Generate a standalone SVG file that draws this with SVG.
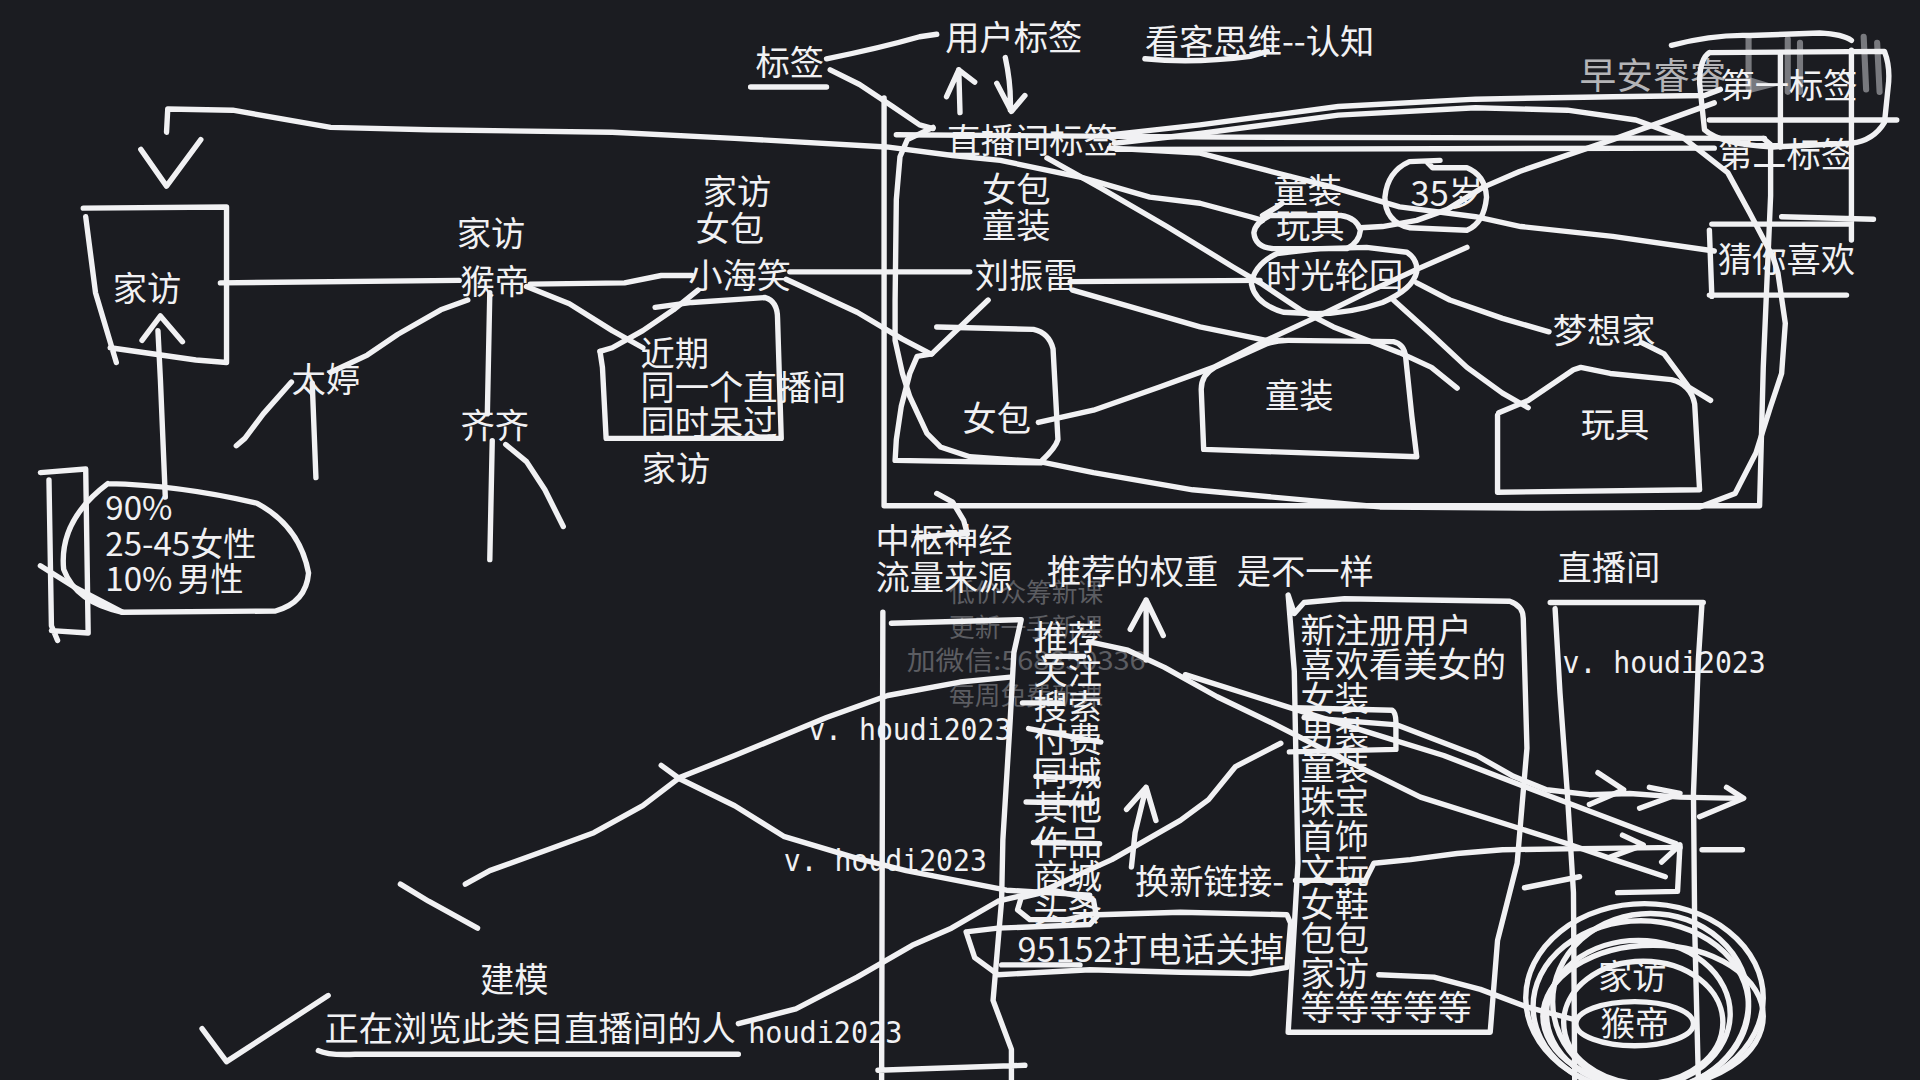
<svg xmlns="http://www.w3.org/2000/svg" width="1920" height="1080" viewBox="0 0 1920 1080">
<style>
.t{font-family:"Noto Sans CJK SC","Noto Sans",sans-serif;font-size:28px;fill:#f1f1f3}
.p{font-family:"Noto Sans CJK SC","Noto Sans",sans-serif;font-size:27px;fill:#f1f1f3}
.m{font-family:"DejaVu Sans Mono","Liberation Mono",monospace;font-size:24px;fill:#f1f1f3}
.w{font-family:"Noto Sans CJK SC","Noto Sans",sans-serif;font-size:21px;fill:#5c5d62;text-anchor:middle}
.s{fill:none;stroke:#f1f1f3;stroke-width:4.4;stroke-linecap:round;stroke-linejoin:round}
.g{fill:none;stroke:#b8b8bc;stroke-width:5;stroke-linecap:round;opacity:.6}
</style>
<rect width="1920" height="1080" fill="#1b1c21"/>
<g transform="scale(1.22449)">
<g id="watermark">
<text x="1290" y="73" style="font-family:'Noto Sans CJK SC',sans-serif;font-size:30px;fill:#cfcfd2;opacity:.85">早安睿睿</text>
<path class="g" d="M1428,30 L1428,72 M1460,32 L1460,75 M1470,35 L1470,75 M1522,30 L1524,73 M1533,35 L1535,75"/>
<path d="M1429,63 L1452,70 L1429,76 Z" fill="#b8b8bc" opacity=".6"/>
<text class="w" x="838" y="492">低价众筹新课</text>
<text class="w" x="838" y="520">更新一手新课</text>
<text class="w" x="838" y="547" textLength="195" lengthAdjust="spacingAndGlyphs">加微信:568850336</text>
<text class="w" x="838" y="576">每周免费新课</text>
</g>
<g id="connectors">
<path class="s" d="M675,48 C700,43 730,36 751,30 L765,28"/>
<path class="s" d="M678,57 L702,69 L729,87 L751,102 L762,105"/>
<path class="s" d="M784,92 L783,57 M773,79 L783,57 L796,67"/>
<path class="s" d="M821,47 Q826,70 825,90 M814,68 L826,91 L837,78"/>
<path class="s" d="M613,71 L675,71"/>
<path class="s" d="M935,48 Q975,52 1021,46 L1035,42"/>
<path class="s" d="M1031,180 L1021,177 L980,166 L939,161 L884,145 L817,131 L778,127 L724,120 L600,113 L500,108 L350,106 L270,104 L190,90 L137,89 L136,108"/>
<path class="s" d="M115,122 L136,152 L164,114"/>
<path class="s" d="M722,80 L722,413 L1437,413 L1440,300 L1446,160 L1446,118 L1440,113 M732,110 L1000,112 L1441,113"/>
<path class="s" d="M762,104 L741,114 L735,128 L732,163 L731,245 L731,278 L737,305 L743,324 L757,354 L768,365 L792,373 L849,377 L893,386 L974,400 L1127,414 L1257,415 L1388,414 L1417,403 L1434,370 L1446,332 L1455,305 L1458,264 L1452,223 L1448,210 L1429,174 L1411,141 L1374,112 L1336,98 L1280,90 L1205,88 L1093,94 L980,109 L910,117"/>
<path class="s" d="M908,110 L980,102 L1093,87 L1205,81 L1317,79 L1392,78 L1405,73"/>
<path class="s" d="M912,122 L1400,121"/>
<path class="s" d="M906,121 L980,125 L1034,139 L1089,153 L1143,169 L1205,177 L1242,185 L1317,193 L1400,205"/>
<path class="s" d="M855,129 L898,153 L953,185 L1007,218 L1029,231 L1062,253 L1089,267 L1143,288 L1169,300 L1190,317"/>
<path class="s" d="M645,222 L792,222"/>
<path class="s" d="M874,230 L1029,229"/>
<path class="s" d="M876,237 L925,251 L980,267 L1034,278 L1048,278"/>
<path class="s" d="M848,345 L893,335 L947,316 L991,300 L1034,278 L1075,259 L1116,239 L1157,220 L1198,202"/>
<path class="s" d="M1400,84 L1317,114 L1241,140 L1211,153 L1182,171 L1157,180 L1129,185 L1111,186"/>
<path class="s" d="M1157,231 L1184,245 L1227,260 L1265,271"/>
<path class="s" d="M1138,245 L1169,273 L1198,300 L1227,321 L1248,333"/>
<path class="s" d="M1341,280 L1359,289 L1379,316 L1397,327"/>
<path class="s" d="M807,245 L784,267 L761,289"/>
<path class="s" d="M642,228 L700,255 L737,277 L760,289"/>
<path class="s" d="M180,231 L375,229"/>
<path class="s" d="M433,232 L510,231 L540,225 L565,225"/>
<path class="s" d="M135,406 L131,310 L129,270 M116,278 L131,258 L149,279"/>
<path class="s" d="M400,239 L398,338 M402,360 L400,457"/>
<path class="s" d="M413,363 L430,377 L445,400 L460,430"/>
<path class="s" d="M382,245 L360,253 L325,273 L300,290 L270,304"/>
<path class="s" d="M238,312 L215,338 L200,358 L193,364"/>
<path class="s" d="M255,313 L258,390"/>
<path class="s" d="M430,234 L465,248 L500,270 L525,284"/>
<path class="s" d="M570,237 L550,253 L525,270 L500,284 L490,287"/>
<path class="s" d="M33,462 L60,479 L100,500"/>
<path class="s" d="M327,722 L350,736 L390,758"/>
<path class="s" d="M380,722 L400,711 L450,693 L485,680 L525,658 L555,635 L600,617 L675,586 L725,568 L784,557 L825,553"/>
<path class="s" d="M540,625 L555,636 L600,658 L640,683 L700,701 L740,711 L822,727 L890,731"/>
<path class="s" d="M603,836 L650,824 L700,798 L745,772 L777,758 L815,736 L853,727 L908,702 L964,670 L987,653 L1009,626 L1046,607"/>
<path class="s" d="M165,840 L185,867 L268,813"/>
<path class="s" d="M260,858 Q268,862 290,861 L603,861"/>
<path class="s" d="M765,403 L778,410 L787,425 L790,436 L770,437 L749,439"/>
<path class="s" d="M818,788 L882,788"/>
<path class="s" d="M835,574 L866,574 M840,595 L899,606 M846,634 L896,636 M838,655 L892,656 M844,688 L898,689 M855,536 L885,536"/>
<path class="s" d="M936,539 L936,490 M923,514 L936,490 L950,519"/>
<path class="s" d="M924,708 L927,680 L936,643 M920,661 L936,643 L944,670"/>
<path class="s" d="M889,524 L921,531 L951,545 L994,569 L1038,590 L1081,612 L1160,651 L1236,675 L1277,688 L1318,702 L1360,716"/>
<path class="s" d="M968,551 L1022,568 L1098,592 L1179,617 L1260,648 L1342,679 L1369,689"/>
<path class="s" d="M1065,586 L1141,592 L1206,617 L1236,634 L1263,645 L1298,649 L1331,648 L1372,651 L1421,652"/>
<path class="s" d="M1305,631 L1326,645 L1298,657 M1347,643 L1372,648 L1339,660 M1410,643 L1424,652 L1388,667"/>
<path class="s" d="M1058,719 L1115,719 L1122,705 L1152,702 L1190,697 L1227,694 L1290,693 L1372,692"/>
<path class="s" d="M1325,682 L1342,690 L1315,700 M1357,704 L1372,690 L1370,728 L1321,729 M1390,694 L1423,694"/>
<path class="s" d="M1245,725 L1290,716"/>
<path class="s" d="M1126,796 L1171,798 L1209,808 L1246,822 L1287,833"/>
</g>
<g id="shapes">
<path class="s" d="M983,367 L981,318 Q981,306 992,300 L1034,281 Q1042,278 1052,278 L1138,279 Q1147,281 1148,292 L1153,340 L1157,373 L983,367"/>
<path class="s" d="M765,267 L844,269 Q857,272 860,285 L864,359 Q862,366 851,376 M850,378 L731,376 L732,359 L736,332 L743,305 L749,291 L761,289"/>
<path class="s" d="M1043,207 L1078,203 L1116,202 L1149,206 Q1158,212 1157,222 Q1154,236 1129,247 Q1100,257 1070,256 L1048,255 Q1025,248 1022,232 Q1024,216 1043,207"/>
<path class="s" d="M1037,176 Q1025,182 1024,190 Q1025,202 1040,203 L1100,203 Q1110,198 1111,188 Q1108,178 1095,176 Z M1031,176 L1043,169 L1047,166"/>
<path class="s" d="M1176,131 L1151,132 Q1133,140 1131,161 Q1131,181 1151,186 L1198,188 Q1212,182 1214,161 Q1213,143 1198,137 L1170,137 L1166,133"/>
<path class="s" d="M1224,337 L1248,327 L1285,302 L1291,300 L1315,305 L1365,310 Q1381,314 1384,330 L1388,400 L1223,402 L1223,339"/>
<path class="s" d="M68,170 L185,169 L185,296 L160,294 L90,284 M70,177 L78,239 L95,296"/>
<path class="s" d="M535,251 L565,247 L625,243 Q635,246 635,260 L638,358 L495,358 L492,300 L490,287"/>
<path class="s" d="M88,395 Q145,396 210,411 Q245,430 252,468 Q250,492 225,499 L100,500 Q62,492 52,465 Q48,425 88,395"/>
<path class="s" d="M33,386 L70,383 L72,517 L42,515 M40,392 L42,511 L47,523"/>
<path class="s" d="M721,500 L720,882 M728,509 L834,506 L828,533 L825,588 L819,686 L818,735 L811,817 L826,857 L826,882 M717,874 L837,870"/>
<path class="s" d="M834,733 L860,727 L893,735 L895,746 L871,751 L841,751 L831,743 Z"/>
<path class="s" d="M789,761 L815,758 L890,755 L897,747 L964,745 L1051,747 L1054,754 L1051,790 L1021,795 L964,794 L890,792 L815,796 L796,782 Z"/>
<path class="s" d="M1052,486 L1057,501 L1065,492 L1098,489 L1233,491 Q1244,495 1244,505 L1247,611 L1239,705 L1223,768 L1217,843 L1052,843 L1060,705 L1057,548 L1052,486"/>
<path class="s" d="M1057,578 L1137,580 Q1140,582 1140,590 L1140,612 L1053,614"/>
<path class="s" d="M1266,492 L1391,492 M1270,497 L1274,566 L1280,648 L1285,729 L1286,882 M1390,492 L1387,539 L1383,648 L1384,757 L1387,882"/>
<g class="s">
<ellipse cx="1343" cy="815" rx="97" ry="77"/>
<ellipse cx="1340" cy="822" rx="88" ry="70"/>
<ellipse cx="1348" cy="818" rx="80" ry="72"/>
<ellipse cx="1338" cy="828" rx="75" ry="60"/>
<ellipse cx="1350" cy="830" rx="90" ry="58"/>
<ellipse cx="1342" cy="835" rx="65" ry="50"/>
<ellipse cx="1335" cy="836" rx="48" ry="18"/>
</g>
<path class="s" d="M1396,43 L1539,42 Q1544,55 1542,71 L1539,100 Q1530,115 1512,117 L1448,120 Q1405,118 1392,106 L1388,68 Q1388,48 1396,43"/>
<path class="s" d="M1365,37 Q1400,28 1429,29 L1486,27 Q1505,28 1512,33"/>
<path class="s" d="M1454,44 L1454,120 M1512,41 L1512,196 M1396,98 L1549,98 M1398,183 L1512,183 M1455,177 L1530,179 M1396,188 L1398,242 M1396,241 L1508,241"/>
</g>
<g id="n-tags"><text class="t" x="617" y="61">标签</text><text class="t" x="772" y="41">用户标签</text><text class="t" x="935" y="44">看客思维--认知</text></g>
<g id="n-room-tag"><text class="t" x="773" y="125">直播间标签</text></g>
<g id="n-bag-kids"><text class="t" x="802" y="165">女包</text><text class="t" x="802" y="194">童装</text></g>
<g id="n-liu"><text class="t" x="796" y="235">刘振雷</text></g>
<g id="n-kids-toy"><text class="t" x="1040" y="166">童装</text><text class="t" x="1042" y="194">玩具</text></g>
<g id="n-35"><text class="t" x="1152" y="168">35岁</text></g>
<g id="n-time"><text class="t" x="1034" y="235">时光轮回</text></g>
<g id="n-first"><text class="t" x="1405" y="80">第一标签</text></g>
<g id="n-second"><text class="t" x="1403" y="136">第二标签</text></g>
<g id="n-guess"><text class="t" x="1403" y="222">猜你喜欢</text></g>
<g id="n-dream"><text class="t" x="1268" y="280">梦想家</text></g>
<g id="n-kids-box"><text class="t" x="1033" y="333">童装</text></g>
<g id="n-toy-box"><text class="t" x="1291" y="357">玩具</text></g>
<g id="n-bag-box"><text class="t" x="786" y="352">女包</text></g>
<g id="n-home"><text class="t" x="92" y="246">家访</text></g>
<g id="n-houdi"><text class="t" x="373" y="201">家访</text><text class="t" x="376" y="240">猴帝</text></g>
<g id="n-xhx"><text class="t" x="574" y="167">家访</text><text class="t" x="568" y="197">女包</text><text class="t" x="562" y="235">小海笑</text></g>
<g id="n-tt"><text class="t" x="238" y="320">太婷</text></g>
<g id="n-qq"><text class="t" x="376" y="358">齐齐</text></g>
<g id="n-recent"><text class="t" x="523" y="299">近期</text><text class="t" x="523" y="327">同一个直播间</text><text class="t" x="523" y="355">同时呆过</text><text class="t" x="524" y="393">家访</text></g>
<g id="n-stat"><text class="p" x="86" y="425">90%</text><text class="p" x="86" y="454">25-45女性</text><text class="p" x="86" y="483">10%</text><text class="p" x="145" y="483">男性</text></g>
<g id="n-source"><text class="t" x="715" y="452">中枢神经</text><text class="t" x="715" y="482">流量来源</text><text class="t" x="855" y="477">推荐的权重</text><text class="t" x="1010" y="477">是不一样</text><text class="t" x="1272" y="474">直播间</text></g>
<g id="n-list1" class="t">
<text x="844" y="531">推荐</text><text x="844" y="559">关注</text><text x="844" y="587">搜索</text><text x="844" y="614">付费</text><text x="844" y="642">同城</text><text x="844" y="670">其他</text><text x="844" y="698">作品</text><text x="844" y="726">商城</text><text x="844" y="753">头条</text>
</g>
<g id="n-link"><text class="t" x="927" y="730">换新链接-</text><text class="t" x="831" y="786">95152打电话关掉</text></g>
<g id="n-list2" class="t">
<text x="1062" y="525">新注册用户</text><text x="1062" y="553">喜欢看美女的</text><text x="1062" y="581">女装</text><text x="1062" y="609">男装</text><text x="1062" y="637">童装</text><text x="1062" y="665">珠宝</text><text x="1062" y="693">首饰</text><text x="1062" y="721">文玩</text><text x="1062" y="749">女鞋</text><text x="1062" y="777">包包</text><text x="1062" y="805">家访</text><text x="1062" y="833">等等等等等</text>
</g>
<g id="n-circle"><text class="t" x="1305" y="808">家访</text><text class="t" x="1307" y="846">猴帝</text></g>
<g id="n-model"><text class="t" x="392" y="810">建模</text><text class="t" x="265" y="850">正在浏览此类目直播间的人</text></g>
<g id="n-ids">
<text class="m" x="660" y="604" textLength="166" lengthAdjust="spacingAndGlyphs">v. houdi2023</text>
<text class="m" x="640" y="711" textLength="166" lengthAdjust="spacingAndGlyphs">v. houdi2023</text>
<text class="m" x="611" y="852" textLength="126" lengthAdjust="spacingAndGlyphs">houdi2023</text>
<text class="m" x="1276" y="550" textLength="166" lengthAdjust="spacingAndGlyphs">v. houdi2023</text>
</g>
</g>
</svg>
